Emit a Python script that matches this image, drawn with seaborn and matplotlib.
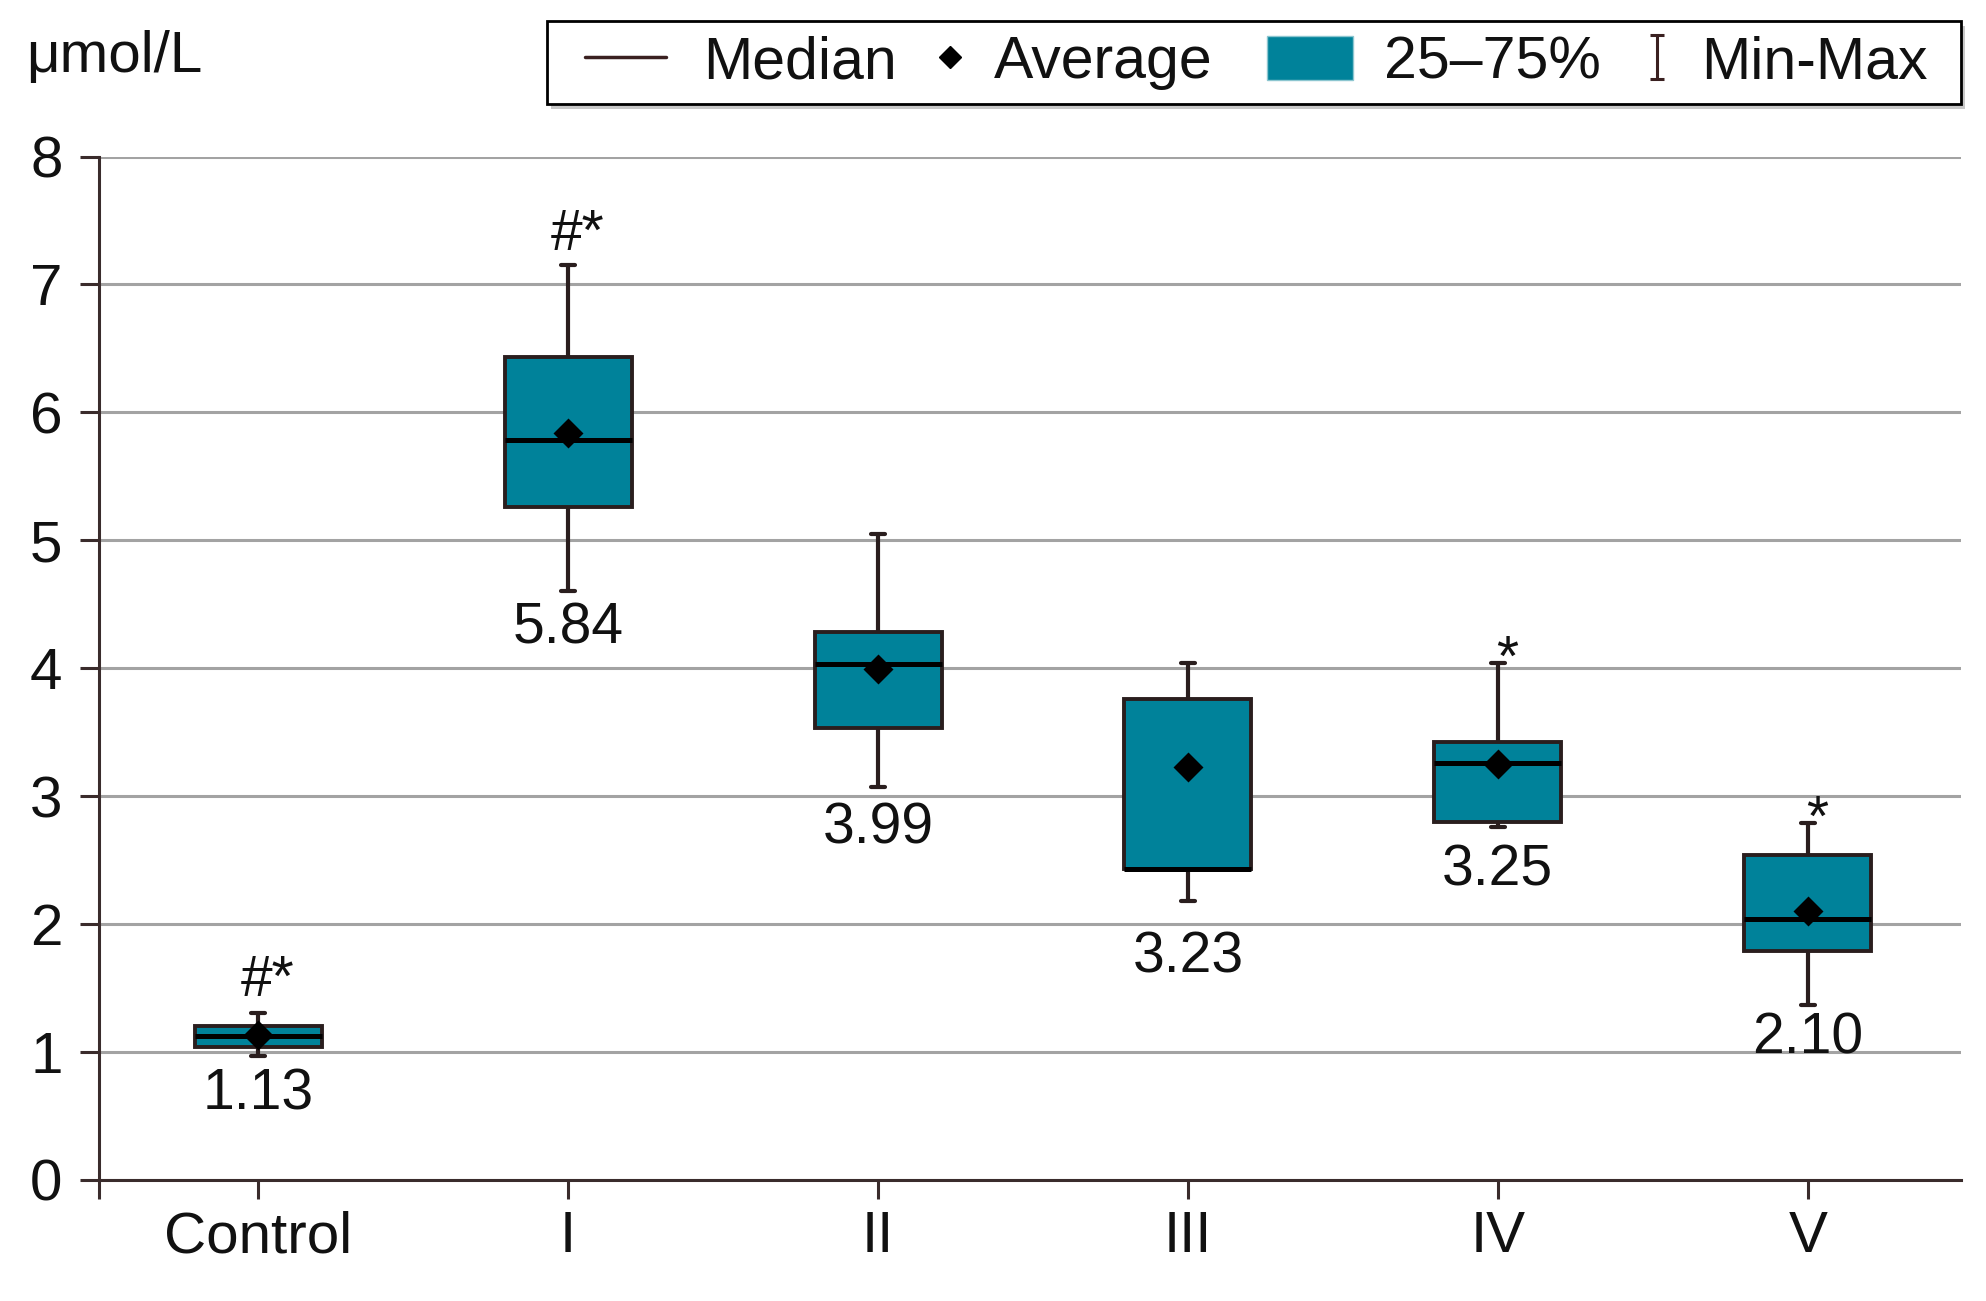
import pandas as pd
import seaborn as sns
import matplotlib.pyplot as plt
from matplotlib.lines import Line2D
from matplotlib.patches import Patch, Rectangle
from matplotlib.path import Path

groups = ['Control', 'I', 'II', 'III', 'IV', 'V']
mins = [0.97, 4.60, 3.07, 2.18, 2.76, 1.37]
q1 = [1.04, 5.26, 3.53, 2.43, 2.80, 1.79]
medians = [1.12, 5.78, 4.03, 2.43, 3.26, 2.04]
q3 = [1.20, 6.43, 4.28, 3.76, 3.42, 2.54]
maxs = [1.30, 7.15, 5.05, 4.04, 4.04, 2.79]
means = [1.13, 5.84, 3.99, 3.23, 3.25, 2.10]
mean_labels = ['1.13', '5.84', '3.99', '3.23', '3.25', '2.10']
sig_marks = ['#*', '#*', '', '', '*', '*']

# label baselines (data units)
label_y = [0.55, 4.19, 2.63, 1.62, 2.30, 0.99]
sig_y = [1.44, 7.27, 0, 0, 3.94, 2.69]

teal = '#00829a'
edge = '#2a1e1e'
tickc = '#3a2c2c'

sns.set_theme(style='white')
plt.rcParams['font.family'] = ['Liberation Sans', 'DejaVu Sans']

# five points per group give exactly min, q1, median, q3, max
rows = []
for i, g in enumerate(groups):
    for v in [mins[i], q1[i], medians[i], q3[i], maxs[i]]:
        rows.append({'group': g, 'value': v})
df = pd.DataFrame(rows)

fig = plt.figure(figsize=(19.86, 13.01), dpi=100)
ax = fig.add_axes([0.0497, 0.0932, 0.9376, 0.7865])

sns.boxplot(data=df, x='group', y='value', order=groups, whis=(0, 100),
            width=0.41, color=teal, saturation=1, linecolor=edge,
            linewidth=2.8, medianprops={'linewidth': 3.6, 'color': 'black'},
            whiskerprops={'linewidth': 3}, capprops={'linewidth': 3},
            ax=ax, zorder=3)

for c in ax.containers:
    for cap in c.caps:
        xs = cap.get_xdata()
        mid = (xs[0] + xs[1]) / 2
        cap.set_xdata([mid - 0.022, mid + 0.022])

sns.pointplot(x=groups, y=means, order=groups, color='black', markers='D',
              linestyle='none', markersize=13, errorbar=None, ax=ax, zorder=5)

for i in range(len(groups)):
    ax.text(i, label_y[i], mean_labels[i], ha='center', va='baseline',
            fontsize=41, color='#111111')
    if sig_marks[i]:
        ax.text(i + 0.03, sig_y[i], sig_marks[i], ha='center', va='baseline',
                fontsize=41, color='#111111')

ax.set_ylim(0, 8)
ax.set_xlim(-0.515, 5.494)
ax.set_yticks(range(0, 9))
ax.yaxis.grid(True, color='#a3a3a3', linewidth=2.2)
ax.set_axisbelow(True)
ax.set_xlabel('')
ax.set_ylabel('')
for s in ['top', 'right']:
    ax.spines[s].set_visible(False)
for s in ['left', 'bottom']:
    ax.spines[s].set_color(tickc)
    ax.spines[s].set_linewidth(2.2)
ax.tick_params(axis='both', which='both', direction='out', length=14,
               width=2.2, color=tickc, labelsize=42, labelcolor='#111111',
               bottom=True, left=True)
ax.tick_params(axis='y', pad=12)
ax.tick_params(axis='x', pad=8)
ax.set_xticks([-0.515], minor=True)

fig.text(0.013, 1 - 72 / 1301, 'μmol/L', fontsize=42, va='baseline',
         ha='left', color='#111111')

ibeam = Path([(-0.3, 1), (0.3, 1), (0, 1), (0, -1), (-0.3, -1), (0.3, -1)],
             [Path.MOVETO, Path.LINETO, Path.MOVETO, Path.LINETO,
              Path.MOVETO, Path.LINETO])
handles = [
    Line2D([], [], color='#3a2020', linewidth=2.5),
    Line2D([], [], color='black', marker='D', linestyle='none', markersize=11),
    Patch(facecolor=teal, edgecolor='#8cc6d0', linewidth=1),
    Line2D([], [], color='#3a2020', marker=ibeam, linestyle='none',
           markersize=32, markeredgewidth=2.2, fillstyle='none'),
]
labels = ['Median', 'Average', '25–75%', 'Min-Max']

# legend frame drawn by hand, entries placed one by one
fx0, fx1, fy0, fy1 = 0.2755, 0.9873, 0.9200, 0.9835
fig.patches.append(Rectangle((fx0 + 0.002, fy0 - 0.0035), fx1 - fx0, fy1 - fy0,
                             transform=fig.transFigure, facecolor='#c8c8c8',
                             edgecolor='none', zorder=1))
fig.patches.append(Rectangle((fx0, fy0), fx1 - fx0, fy1 - fy0,
                             transform=fig.transFigure, facecolor='white',
                             edgecolor='black', linewidth=2, zorder=2))

entry_x = [585 / 1986, 940 / 1986, 1267 / 1986, 1647 / 1986]
entry_hl = [1.37, 0.34, 1.46, 0.34]
entry_pad = [0.63, 0.58, 0.53, 0.58]
for h, lab, x0, hl, pad in zip(handles, labels, entry_x, entry_hl, entry_pad):
    leg = fig.legend([h], [lab], loc='center left',
                     bbox_to_anchor=(x0, (fy0 + fy1) / 2), borderaxespad=0,
                     fontsize=42.5, frameon=False, handlelength=hl,
                     handleheight=0.76, handletextpad=pad, borderpad=0)
    leg.set_zorder(3)
    for t in leg.get_texts():
        t.set_color('#111111')

fig.savefig('out.png', dpi=100)
